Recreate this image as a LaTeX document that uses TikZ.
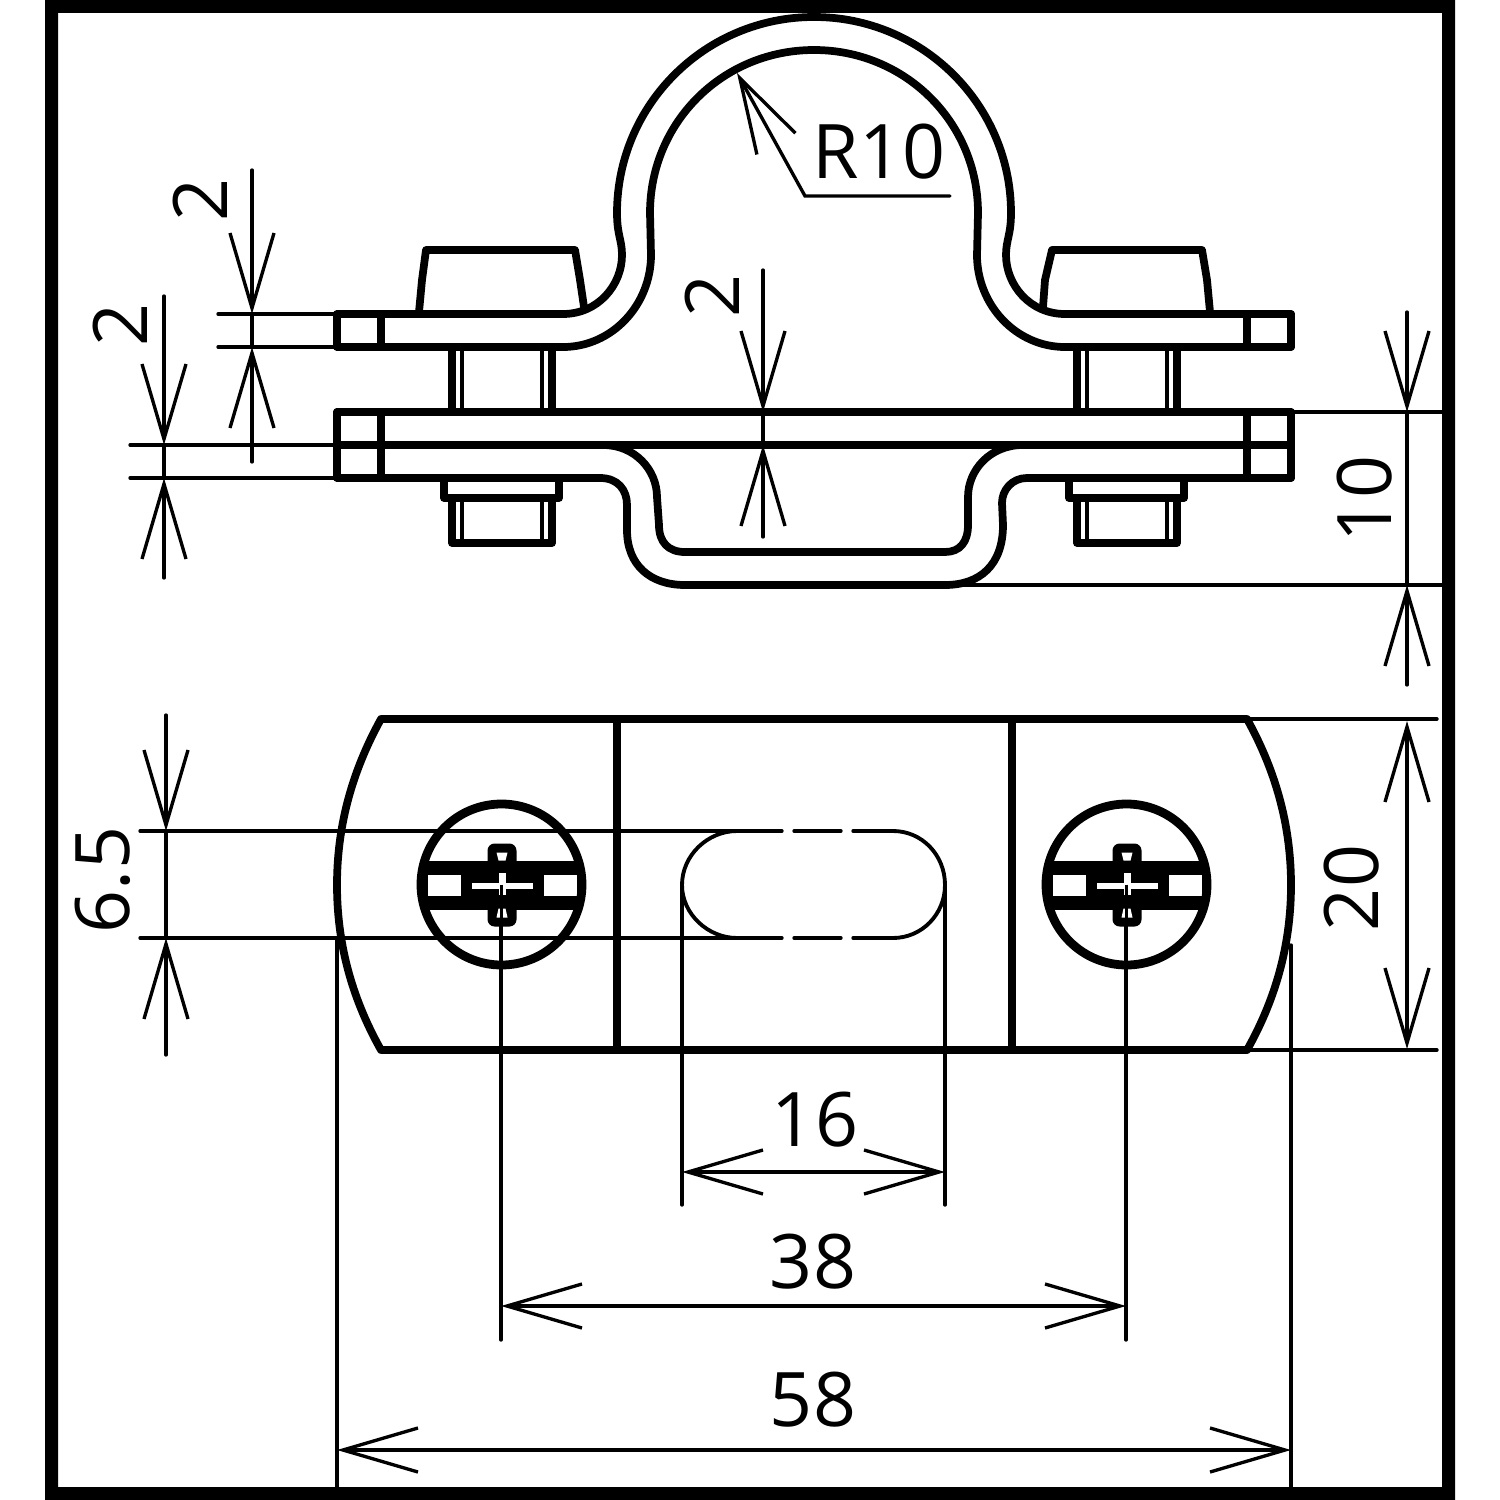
\documentclass[tikz,border=0pt]{standalone}
\usepackage{fontspec}
\setmainfont{Open Sans}
\usetikzlibrary{arrows.meta}
\tikzset{
  heavy/.style={line width=2.2pt, line join=round, line cap=round},
  dimline/.style={line width=0.95pt, line cap=round, >={Straight Barb[length=7.5mm,width=4.4mm]}},
  dimtext/.style={font=\fontsize{21.4}{26}\selectfont, inner sep=0pt},
}

\begin{document}
\begin{tikzpicture}[x=0.01cm, y=-0.01cm]
  \useasboundingbox (0,0) rectangle (1500,1500);
  \fill[black, even odd rule] (45,0) rectangle (1455,1500) (58,13) rectangle (1442,1487);

  % dimensions, side view
  \draw[dimline] (218,314) -- (337,314);
  \draw[dimline] (218,347) -- (337,347);
  \draw[dimline] (130,445) -- (337,445);
  \draw[dimline] (130,478) -- (337,478);
  \draw[dimline, ->] (252,170) -- (252,314);
  \draw[dimline, ->] (252,462) -- (252,347);
  \draw[dimline] (252,314) -- (252,347);
  \draw[dimline, ->] (164,296) -- (164,445);
  \draw[dimline, ->] (164,578) -- (164,478);
  \draw[dimline] (164,445) -- (164,478);
  \draw[dimline, ->] (763,270) -- (763,412);
  \draw[dimline, ->] (763,537) -- (763,445);
  \draw[dimline] (763,412) -- (763,445);
  \draw[dimline] (1291,412) -- (1442,412);
  \draw[dimline] (960,585) -- (1442,585);
  \draw[dimline, ->] (1407,312) -- (1407,412);
  \draw[dimline, ->] (1407,685) -- (1407,585);
  \draw[dimline] (1407,412) -- (1407,585);
  \draw[dimline, ->] (950,196) -- (805,196) -- (737,73);

  \node[dimtext, rotate=90] (twotop) at (200,200) {2};
  \node[dimtext, rotate=90] (twoleft) at (120,325) {2};
  \node[dimtext, rotate=90] (twomid) at (712,296) {2};
  \node[dimtext, rotate=90] (tenside) at (1365,499) {10};
  \node[dimtext] (radius) at (879,152) {R10};

  % dimensions, plan view
  \draw[dimline] (1247,719) -- (1437,719);
  \draw[dimline] (1247,1050) -- (1437,1050);
  \draw[dimline, <->] (1407,721) -- (1407,1049);
  \draw[dimline, ->] (166,715) -- (166,831);
  \draw[dimline, ->] (166,1055) -- (166,938);
  \draw[dimline] (166,831) -- (166,938);
  \draw[dimline] (140,831) -- (782,831);
  \draw[dimline] (794,831) -- (841,831);
  \draw[dimline] (853,831) -- (893,831);
  \draw[dimline] (140,938) -- (782,938);
  \draw[dimline] (794,938) -- (841,938);
  \draw[dimline] (853,938) -- (893,938);
  \draw[dimline] (337,938) -- (337,1487);
  \draw[dimline] (1291,945) -- (1291,1487);
  \draw[dimline] (682,885) -- (682,1205);
  \draw[dimline] (945,885) -- (945,1205);
  \draw[dimline] (501,926) -- (501,1340);
  \draw[dimline] (1126,926) -- (1126,1340);
  \draw[dimline, <->] (682,1172) -- (945,1172);
  \draw[dimline, <->] (501,1306) -- (1126,1306);
  \draw[dimline, <->] (337,1450) -- (1291,1450);

  \node[dimtext, rotate=90] (twenty) at (1352,888) {20};
  \node[dimtext, rotate=90] (slotwidth) at (103,880) {6.5};
  \node[dimtext] (slotlength) at (815,1120) {16};
  \node[dimtext] (holes) at (813,1262) {38};
  \node[dimtext] (overall) at (813,1400) {58};

  % slot
  \draw[line width=1.1pt] (737,831) .. controls (708,831) and (682,855) .. (682,885) .. controls (682,914) and (708,938) .. (737,938);
  \draw[line width=1.1pt] (893,831) .. controls (922,831) and (945,855) .. (945,885) .. controls (945,914) and (922,938) .. (893,938);

  % upper strap
  \draw[heavy] (337,314) -- (563,314) .. controls (598,314) and (622,285) .. (622,255)
    .. controls (622,240) and (617,235) .. (617,213)
    .. controls (617,105) and (705,17) .. (814,17)
    .. controls (923,17) and (1011,105) .. (1011,213)
    .. controls (1011,235) and (1006,240) .. (1006,255)
    .. controls (1006,285) and (1030,314) .. (1065,314) -- (1291,314);
  \draw[heavy] (337,347) -- (563,347) .. controls (612,347) and (651,305) .. (651,255)
    -- (650,213) .. controls (650,122) and (723,50) .. (814,50)
    .. controls (905,50) and (978,122) .. (978,213)
    -- (977,255) .. controls (977,305) and (1016,347) .. (1065,347) -- (1291,347);
  \draw[heavy] (337,314) -- (337,347);
  \draw[heavy] (381,314) -- (381,347);
  \draw[heavy] (1247,314) -- (1247,347);
  \draw[heavy] (1291,314) -- (1291,347);

  % lower strap
  \draw[heavy] (337,412) -- (1291,412);
  \draw[heavy] (337,445) -- (1291,445);
  \draw[heavy] (603,445) .. controls (635,445) and (657,470) .. (657,497)
    -- (659,525) .. controls (659,542) and (668,552) .. (685,552) -- (945,552)
    .. controls (960,552) and (968,542) .. (968,525) -- (968,497)
    .. controls (968,470) and (990,445) .. (1023,445);
  \draw[heavy] (337,478) -- (600,478) .. controls (618,478) and (627,490) .. (627,505)
    -- (627,530) .. controls (627,565) and (650,585) .. (685,585) -- (945,585)
    .. controls (980,585) and (1003,565) .. (1003,525) -- (1002,503)
    .. controls (1002,490) and (1012,478) .. (1027,478) -- (1291,478);
  \draw[heavy] (337,412) -- (337,478);
  \draw[heavy] (381,412) -- (381,478);
  \draw[heavy] (1247,412) -- (1247,478);
  \draw[heavy] (1291,412) -- (1291,478);

  % bolt heads
  \draw[heavy] (419,312) -- (422,280) -- (426,250) -- (575,250) -- (580,280) -- (584,307);
  \draw[heavy] (1043,307) -- (1045,280) -- (1052,250) -- (1202,250) -- (1207,280) -- (1210,312);

  % bolt shafts
  \foreach \bx in {452,1077} {
    \draw[heavy] (\bx,347) -- (\bx,412);
    \draw[heavy] (\bx+100,347) -- (\bx+100,412);
    \draw[dimline] (\bx+10,347) -- (\bx+10,412);
    \draw[dimline] (\bx+90,347) -- (\bx+90,412);
    \draw[heavy] (\bx-8,478) -- (\bx-8,498) -- (\bx+107,498) -- (\bx+107,478);
    \draw[heavy] (\bx,498) -- (\bx,543) -- (\bx+100,543) -- (\bx+100,498);
    \draw[dimline] (\bx+10,498) -- (\bx+10,543);
    \draw[dimline] (\bx+90,498) -- (\bx+90,543);
  }

  % plate outline
  \draw[heavy] (381,719) .. controls (350,775) and (337,830) .. (337,885)
    .. controls (337,940) and (350,995) .. (381,1050) -- (1247,1050)
    .. controls (1278,995) and (1291,940) .. (1291,885)
    .. controls (1291,830) and (1278,775) .. (1247,719) -- cycle;
  \draw[heavy] (617,719) -- (617,1050);
  \draw[heavy] (1012,719) -- (1012,1050);

  % screws
  \foreach \sx in {501.5,1126.5} {
    \begin{scope}[shift={(\sx,884.5)}]
      \begin{scope}
        \clip (0,0) circle[radius=80];
        \fill[black] (-82,-24) rectangle (82,25);
      \end{scope}
      \fill[white] (-74,-10) rectangle (-41,11);
      \fill[white] (42,-10) rectangle (75,11);
      \fill[black, rounded corners=2] (-14,-41) rectangle (15,42);
      \fill[white] (-5,-32) -- (6,-32) -- (4,-24) -- (-3,-24) -- cycle;
      \fill[white] (-3,24) -- (4,24) -- (6,33) -- (-5,33) -- cycle;
      \fill[white] (-30,-2) rectangle (31,4);
      \fill[white] (-3,-12) rectangle (4,10);
      \draw[black, line width=0.9pt] (0,0) -- (0,42);
      \draw[line width=2.5pt] (0,0) circle[radius=80.5];
    \end{scope}
  }
\end{tikzpicture}
\end{document}
